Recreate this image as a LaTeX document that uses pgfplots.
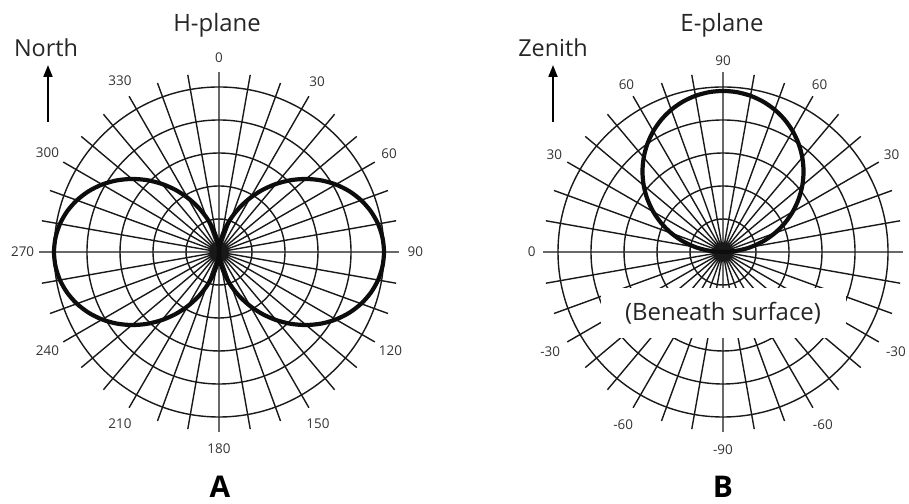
\documentclass[border=0pt]{standalone}
\usepackage{pgfplots}
\pgfplotsset{compat=1.18}
\usepgfplotslibrary{polar}
\usetikzlibrary{arrows.meta}
\usepackage{fontspec}
\setmainfont{Open Sans}
\definecolor{labgray}{HTML}{333333}
\tikzset{lab/.style={font=\fontsize{13.5}{13.5}\selectfont, text=labgray, inner sep=0pt}}
\pgfplotsset{
  myp/.style={
    scale only axis, width=359.7bp, height=359.7bp, anchor=center,
    xmin=0, xmax=360, ymin=0, ymax=5.45,
    xtick={0,10,...,350}, ytick={1,2,3,4,5},
    xticklabels={}, yticklabels={},
    grid=major, major grid style={line width=1.4bp, black!90},
    axis line style={draw=none}, major tick length=0pt,
    clip=false,
  },
}
\begin{document}
\begin{tikzpicture}[x=1bp,y=1bp]
\useasboundingbox (0,0) rectangle (909,504);
% ---------------- H-plane ----------------
\begin{polaraxis}[myp, at={(219bp,252bp)}]
\addplot[line width=4.2bp, black!95, smooth] coordinates {
(90,0) (85,0.164) (80,0.431) (75,0.754) (70,1.113) (65,1.497) (60,1.894) (55,2.297)
(50,2.693) (45,3.078) (40,3.443) (35,3.782) (30,4.089) (25,4.357) (20,4.583) (15,4.763)
(10,4.894) (5,4.973) (0,5) (-5,4.973) (-10,4.894) (-15,4.763) (-20,4.583) (-25,4.357)
(-30,4.089) (-35,3.782) (-40,3.443) (-45,3.078) (-50,2.693) (-55,2.297) (-60,1.894)
(-65,1.497) (-70,1.113) (-75,0.754) (-80,0.431) (-85,0.164) (-90,0)
};
\addplot[line width=4.2bp, black!95, smooth] coordinates {
(90,0) (95,0.164) (100,0.431) (105,0.754) (110,1.113) (115,1.497) (120,1.894) (125,2.297)
(130,2.693) (135,3.078) (140,3.443) (145,3.782) (150,4.089) (155,4.357) (160,4.583) (165,4.763)
(170,4.894) (175,4.973) (180,5) (185,4.973) (190,4.894) (195,4.763) (200,4.583) (205,4.357)
(210,4.089) (215,3.782) (220,3.443) (225,3.078) (230,2.693) (235,2.297) (240,1.894)
(245,1.497) (250,1.113) (255,0.754) (260,0.431) (265,0.164) (270,0)
};
\node[lab] at (axis cs:90,5.9) {0};
\node[lab] at (axis cs:60,5.95) {30};
\node[lab] at (axis cs:30,5.95) {60};
\node[lab] at (axis cs:0,5.95) {90};
\node[lab] at (axis cs:-30,6.0) {120};
\node[lab] at (axis cs:-60,6.0) {150};
\node[lab] at (axis cs:-90,5.95) {180};
\node[lab] at (axis cs:240,6.0) {210};
\node[lab] at (axis cs:210,6.0) {240};
\node[lab] at (axis cs:180,5.95) {270};
\node[lab] at (axis cs:150,6.0) {300};
\node[lab] at (axis cs:120,6.0) {330};
\end{polaraxis}
% ---------------- E-plane ----------------
\begin{polaraxis}[myp, at={(723bp,252bp)}]
\node[fill=white, minimum width=245bp, minimum height=50bp, inner sep=0pt,
      font=\fontsize{24}{24}\selectfont, text=black!85] at (axis cs:270,1.85) {(Beneath surface)};
\addplot[line width=4.2bp, black!95, smooth] coordinates {
(0,0) (5,0.425) (10,0.847) (15,1.263) (20,1.669) (25,2.062) (30,2.440) (35,2.799)
(40,3.137) (45,3.451) (50,3.738) (55,3.997) (60,4.226) (65,4.423) (70,4.586)
(75,4.714) (80,4.806) (85,4.861) (90,4.88) (95,4.861) (100,4.806) (105,4.714)
(110,4.586) (115,4.423) (120,4.226) (125,3.997) (130,3.738) (135,3.451) (140,3.137)
(145,2.799) (150,2.440) (155,2.062) (160,1.669) (165,1.263) (170,0.847) (175,0.425) (180,0)
};
\node[lab] at (axis cs:90,5.8) {90};
\node[lab] at (axis cs:120,5.85) {60};
\node[lab] at (axis cs:60,5.85) {60};
\node[lab] at (axis cs:150,5.9) {30};
\node[lab] at (axis cs:30,5.9) {30};
\node[lab] at (axis cs:180,5.8) {0};
\node[lab] at (axis cs:210,6.05) {-30};
\node[lab] at (axis cs:-30,6.05) {-30};
\node[lab] at (axis cs:240,6.05) {-60};
\node[lab] at (axis cs:-60,6.05) {-60};
\node[lab] at (axis cs:270,6.0) {-90};
\end{polaraxis}
% ---------------- annotations ----------------
\node[anchor=base, font=\fontsize{24}{24}\selectfont, text=black!85] at (217,472) {H-plane};
\node[anchor=base, font=\fontsize{24}{24}\selectfont, text=black!85] at (722,472) {E-plane};
\node[anchor=base, font=\fontsize{23.5}{23.5}\selectfont, text=black!85] at (46,447) {North};
\node[anchor=base, font=\fontsize{23.5}{23.5}\selectfont, text=black!85] at (553,447) {Zenith};
\draw[line width=2bp, -{Triangle[length=12bp,width=9bp]}] (48,382) -- (48,439);
\draw[line width=2bp, -{Triangle[length=12bp,width=9bp]}] (553,382) -- (553,439);
\node[anchor=base, inner sep=0pt, font=\bfseries\fontsize{30}{30}\selectfont] at (220,6) {A};
\node[anchor=base, inner sep=0pt, font=\bfseries\fontsize{30}{30}\selectfont] at (723,6) {B};
\end{tikzpicture}
\end{document}
